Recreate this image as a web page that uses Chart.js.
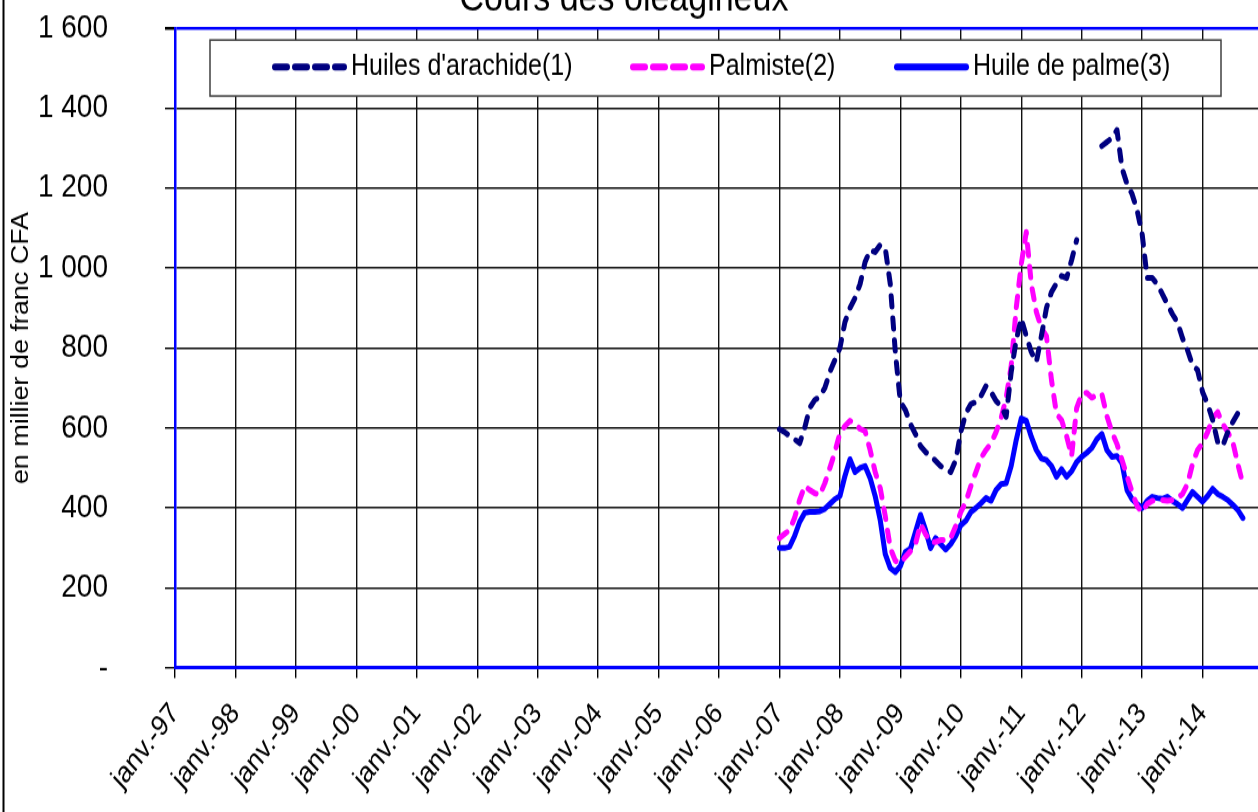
<!DOCTYPE html>
<html>
<head>
<meta charset="utf-8">
<script src="https://cdn.jsdelivr.net/npm/chart.js@4.4.1/dist/chart.umd.min.js"></script>
<style>
  html, body { margin: 0; padding: 0; background: #fff; overflow: hidden; }
</style>
</head>
<body>
<!-- drawn at 694px high and stretched to 812px, like the original picture -->
<canvas id="chart" width="1258" height="694" style="width:1258px;height:812px"></canvas>
<script>
const SY = 812 / 694;

// monthly values, janv. 2007 -> sept. 2014 (month index 120 = janv.-07)
const firstMonth = 120;
const arachide = [
  597, 590, 580, 572, 562, 600, 650, 670, 678, 700,
  740, 770, 800, 865, 900, 925, 960, 1015, 1045, 1040,
  1058, 1050, 960, 790, 665, 645, 610, 585, 555, 540,
  530, 518, 505, 497, 490, 520, 590, 637, 660, 665,
  680, 705, 690, 668, 655, 628, 740, 820, 874, 830,
  790, 765, 830, 900, 940, 962, 980, 975, 1020, 1070,
  null, null, null, null, 1305, 1315, 1325, 1345, 1250, 1210,
  1185, 1145, 1085, 975, 975, 960, 935, 910, 885, 865,
  825, 795, 757, 745, 690, 660, 620, 565, 555, 590,
  615, 637, 660
];
const palmiste = [
  325, 335, 345, 375, 420, 455, 445, 437, 432, 462,
  500, 540, 587, 605, 618, 610, 598, 592, 545, 490,
  450, 380, 300, 268, 262, 278, 292, 310, 360, 335,
  315, 315, 320, 320, 325, 355, 390, 415, 455, 490,
  525, 545, 562, 590, 625, 675, 755, 900, 1010, 1090,
  960, 890, 850, 830, 720, 635, 620, 580, 530, 650,
  685, 688, 676, 682, 685, 630, 590, 560, 520, 480,
  440, 405, 390, 410, 418, 420, 420, 418, 420, 425,
  435, 460, 510, 545, 562, 590, 625, 640, 610, 590,
  565, 510, 460
];
const palme = [
  300, 300, 303, 330, 365, 388, 390, 390, 392, 398,
  410, 422, 430, 480, 522, 490, 500, 505, 475, 430,
  370, 285, 250, 240, 255, 290, 298, 340, 383, 345,
  300, 325, 310, 296, 310, 330, 357, 368, 390, 400,
  412, 425, 418, 445, 460, 462, 505, 570, 624, 618,
  578, 545, 524, 520, 505, 478, 497, 478, 492, 515,
  528, 538, 550, 572, 585, 545, 528, 530, 512, 445,
  422, 410, 400, 418, 428, 425, 423, 428, 418, 410,
  400, 420, 440, 428, 416, 430, 448, 435, 428, 420,
  408, 395, 375
];

const xTickLabels = [
  'janv.-97', 'janv.-98', 'janv.-99', 'janv.-00', 'janv.-01', 'janv.-02',
  'janv.-03', 'janv.-04', 'janv.-05', 'janv.-06', 'janv.-07', 'janv.-08',
  'janv.-09', 'janv.-10', 'janv.-11', 'janv.-12', 'janv.-13', 'janv.-14'
];
const yTickLabels = ['-', '200', '400', '600', '800', '1 000', '1 200', '1 400', '1 600'];

const toPoints = (values) => values.map((v, i) => ({ x: firstMonth + i, y: v }));

const FONT = 'Arial, "Liberation Sans", sans-serif';
Chart.defaults.font.family = FONT;
Chart.defaults.color = '#000';

const frame = {
  id: 'frame',
  beforeDraw(chart) {
    const { ctx } = chart;
    ctx.save();
    ctx.fillStyle = '#fff';
    ctx.fillRect(0, 0, chart.width, chart.height);
    ctx.fillStyle = '#000';
    ctx.fillRect(2.5, 0, 2, chart.height);
    ctx.restore();
  },
  afterDraw(chart) {
    const { ctx } = chart;
    ctx.save();
    ctx.fillStyle = '#000';
    ctx.font = '34px ' + FONT;
    ctx.textAlign = 'center';
    ctx.textBaseline = 'alphabetic';
    ctx.fillText('Cours des oléagineux', 624, 10 / SY);
    ctx.restore();
  }
};

// legend sits inside the plot, on a white box over the grid
const boxLegend = {
  id: 'boxLegend',
  afterDatasetsDraw(chart) {
    const { ctx } = chart;
    const top = 40 / SY, bottom = 96 / SY, midY = 67 / SY;
    const samples = [272, 630, 894];
    ctx.save();
    ctx.fillStyle = '#fff';
    ctx.fillRect(210, top, 1011, bottom - top);
    ctx.strokeStyle = '#404040';
    ctx.lineWidth = 1.5;
    ctx.strokeRect(210, top, 1011, bottom - top);
    chart.data.datasets.forEach((ds, i) => {
      const x0 = samples[i];
      ctx.beginPath();
      ctx.setLineDash(ds.borderDash ? [12, 8] : []);
      ctx.lineCap = 'round';
      ctx.lineWidth = 6;
      ctx.strokeStyle = ds.borderColor;
      ctx.moveTo(x0 + 3, midY);
      ctx.lineTo(x0 + 72, midY);
      ctx.stroke();
      ctx.setLineDash([]);
      ctx.fillStyle = '#000';
      ctx.font = '25px ' + FONT;
      ctx.textAlign = 'left';
      ctx.textBaseline = 'middle';
      ctx.fillText(ds.label, x0 + 79, midY);
    });
    ctx.restore();
  }
};

const lineStyle = { borderWidth: 5, pointRadius: 0, tension: 0, borderCapStyle: 'round', borderJoinStyle: 'round', spanGaps: false };

new Chart(document.getElementById('chart'), {
  type: 'line',
  data: {
    datasets: [
      { label: "Huiles d'arachide(1)", data: toPoints(arachide), borderColor: '#000080', borderDash: [9, 10], ...lineStyle },
      { label: 'Palmiste(2)', data: toPoints(palmiste), borderColor: '#ff00ff', borderDash: [9, 10], ...lineStyle },
      { label: 'Huile de palme(3)', data: toPoints(palme), borderColor: '#0000ff', ...lineStyle }
    ]
  },
  options: {
    responsive: false,
    animation: false,
    layout: { padding: { top: 28 / SY, right: 0, bottom: 0, left: 0 } },
    plugins: {
      legend: { display: false },
      title: { display: false },
      tooltip: { enabled: false }
    },
    scales: {
      x: {
        type: 'linear',
        min: 0,
        max: 215,
        afterBuildTicks: (scale) => {
          scale.ticks = xTickLabels.map((_, i) => ({ value: i * 12 }));
        },
        afterFit: (scale) => { scale.height = (812 - 668) / SY; },
        ticks: {
          autoSkip: false,
          minRotation: 48,
          maxRotation: 48,
          padding: 16,
          font: { size: 25 },
          callback: (v, i) => xTickLabels[i]
        },
        grid: { color: '#111', lineWidth: 1.4, tickLength: 10 / SY, tickColor: '#000' },
        border: { color: '#0000ff', width: 3 }
      },
      y: {
        min: 0,
        max: 1600,
        afterFit: (scale) => {
          scale.width = 175;
          scale.paddingTop = 0;
          scale.paddingBottom = 0;
        },
        ticks: {
          stepSize: 200,
          padding: 57,
          font: { size: 28 },
          callback: (v, i) => yTickLabels[i]
        },
        grid: {
          color: (c) => (c.tick && c.tick.value === 1600 ? '#0000ff' : '#111'),
          lineWidth: (c) => (c.tick && c.tick.value === 1600 ? 2.5 : 1.4),
          tickLength: 10,
          tickColor: '#000'
        },
        border: { color: '#0000ff', width: 2.5 },
        title: {
          display: true,
          text: 'en millier de franc CFA',
          font: { size: 23 },
          padding: { top: 8, bottom: 0 }
        }
      }
    }
  },
  plugins: [frame, boxLegend]
});
</script>
</body>
</html>
